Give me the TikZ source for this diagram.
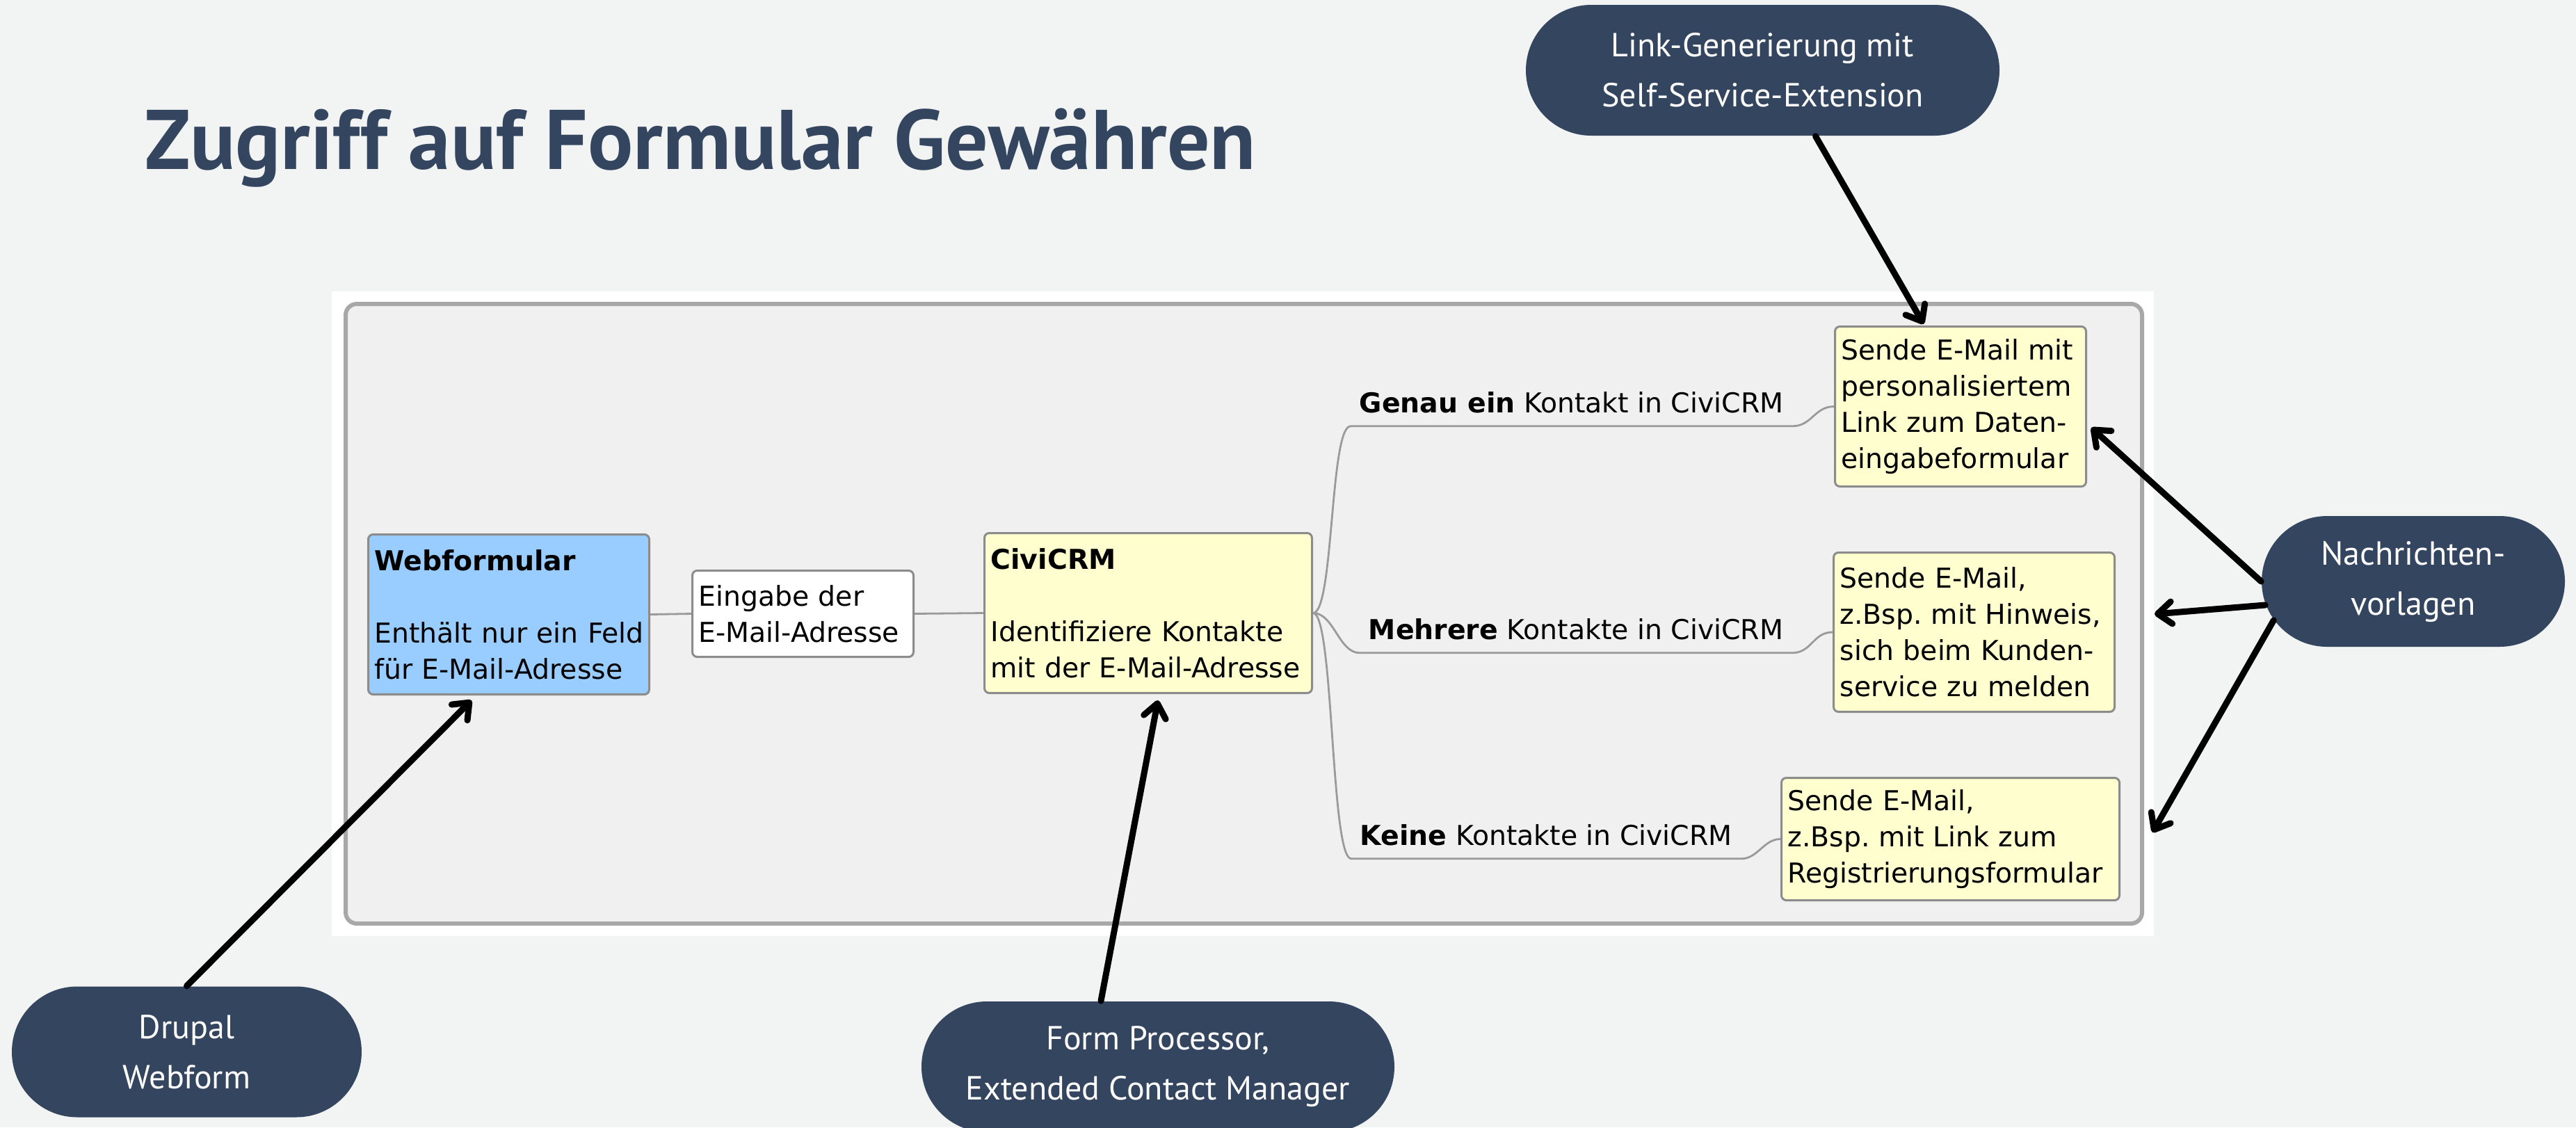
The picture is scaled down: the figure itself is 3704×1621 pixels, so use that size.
\documentclass[tikz,border=0pt]{standalone}
\usepackage{fontspec}
\setmainfont{DejaVu Sans}
\newfontfamily\pillfont{PT Sans}
\usetikzlibrary{arrows.meta,calc}
\definecolor{bg}{HTML}{F2F3F3}
\definecolor{navy}{HTML}{34455F}
\definecolor{framefill}{HTML}{F0F0F0}
\definecolor{framedraw}{HTML}{A8A8A8}
\definecolor{boxdraw}{HTML}{8C8C8C}
\definecolor{ylw}{HTML}{FEFECE}
\definecolor{blu}{HTML}{99CCFF}
\definecolor{linegray}{HTML}{9A9A9A}
\frenchspacing
\begin{document}
\begin{tikzpicture}[x=0.25pt,y=-0.25pt,
  box/.style={draw=boxdraw, line width=0.75pt, rounded corners=1.75pt, align=left,
    inner xsep=2.25pt, inner ysep=0pt, anchor=north west,
    font=\fontsize{9.85}{13}\selectfont},
  lab/.style={inner xsep=3pt, inner ysep=4.75pt, text depth=0pt, anchor=base west,
    font=\fontsize{9.85}{13}\selectfont},
  conn/.style={draw=linegray, line width=0.7pt},
  pill/.style={fill=navy, rounded corners=23.5pt, text=white, align=center, inner sep=0pt,
    font=\pillfont\fontsize{12}{18}\selectfont, minimum height=47pt},
  arr/.style={draw=black, line width=2.25pt, line cap=round,
    -{Straight Barb[length=5pt,width=8pt,round]}}
]
\fill[bg] (0,0) rectangle (3704,1621);
\useasboundingbox (0,0) rectangle (3704,1621);
\fill[white] (477,419) rectangle (3097,1346);
\draw[draw=framedraw, fill=framefill, line width=1.5pt, rounded corners=4pt] (497,437) rectangle (3080,1328);

\node[anchor=base west, inner sep=0pt, text=navy, font=\pillfont\bfseries\fontsize{30.4}{36}\selectfont] (title) at (208,243) {Zugriff auf Formular Gewähren};

% boxes
\node[box, fill=blu, minimum width=101pt, minimum height=57.5pt, text width=96.5pt] (web) at (528,767)
  {\textbf{Webformular}\\[13pt]\mbox{Enthält nur ein Feld}\\\mbox{für E-Mail-Adresse}};
\node[box, fill=white, minimum width=79.5pt, minimum height=31pt, text width=75pt] (ein) at (994,819)
  {\mbox{Eingabe der}\\\mbox{E-Mail-Adresse}};
\node[box, fill=ylw, minimum width=117.75pt, minimum height=57.5pt, text width=113.25pt] (civi) at (1414,765)
  {\textbf{CiviCRM}\\[13pt]\mbox{Identifiziere Kontakte}\\\mbox{mit der E-Mail-Adresse}};
\node[box, fill=ylw, minimum width=90.25pt, minimum height=57.5pt, text width=85.75pt] (g1) at (2637,468)
  {\mbox{Sende E-Mail mit}\\\mbox{personalisiertem}\\\mbox{Link zum Daten-}\\\mbox{eingabeformular}};
\node[box, fill=ylw, minimum width=101pt, minimum height=57.25pt, text width=96.5pt] (g2) at (2635,793)
  {\mbox{Sende E-Mail,}\\\mbox{z.Bsp. mit Hinweis,}\\\mbox{sich beim Kunden-}\\\mbox{service zu melden}};
\node[box, fill=ylw, minimum width=121.5pt, minimum height=44pt, text width=117pt] (g3) at (2560,1117)
  {\mbox{Sende E-Mail,}\\\mbox{z.Bsp. mit Link zum}\\\mbox{Registrierungsformular}};

% labels
\node[lab] (l1) at (1942,593) {\textbf{Genau ein} Kontakt in CiviCRM};
\node[lab] (l2) at (1955,919) {\textbf{Mehrere} Kontakte in CiviCRM};
\node[lab] (l3) at (1943,1215) {\textbf{Keine} Kontakte in CiviCRM};

% connectors
\draw[conn] (web.east) -- (ein.west);
\draw[conn] (ein.east) -- (civi.west);
\draw[conn] (civi.east) .. controls +(30,0) and +(-30,0) .. (l1.south west) -- (l1.south east)
  .. controls +(28,0) and +(-28,0) .. (g1.west);
\draw[conn] (civi.east) .. controls +(30,0) and +(-30,0) .. (l2.south west) -- (l2.south east)
  .. controls +(28,0) and +(-28,0) .. (g2.west);
\draw[conn] (civi.east) .. controls +(30,0) and +(-30,0) .. (l3.south west) -- (l3.south east)
  .. controls +(24,0) and +(-24,0) .. (g3.west);

% pills
\node[pill, minimum width=170.25pt] (lg) at (2534.5,101) {Link-Generierung mit\\Self-Service-Extension};
\node[pill, minimum width=109pt] (nach) at (3470,836) {Nachrichten-\\vorlagen};
\node[pill, minimum width=125.75pt] (dr) at (268.5,1512.5) {Drupal\\Webform};
\node[pill, minimum width=170pt] (fp) at (1665,1534) {Form Processor,\\Extended Contact Manager};

% arrow targets
\coordinate (t1) at (678,1007);
\coordinate (t2) at (1665,1007);
\coordinate (t3) at (2766,466);
\coordinate (t4) at (3007,615);
\coordinate (t5) at (3098,883);
\coordinate (t6) at (3095,1197);

\draw[arr] (dr.north) -- (t1);
\draw[arr] ($(fp.north)+(-82,0)$) -- (t2);
\draw[arr] ($(lg.south)+(76,0)$) -- (t3);
\draw[arr] (nach.west) -- (t4);
\draw[arr] ($(nach.west)+(6,34)$) -- (t5);
\draw[arr] ($(nach.west)+(18,56)$) -- (t6);
\end{tikzpicture}
\end{document}
